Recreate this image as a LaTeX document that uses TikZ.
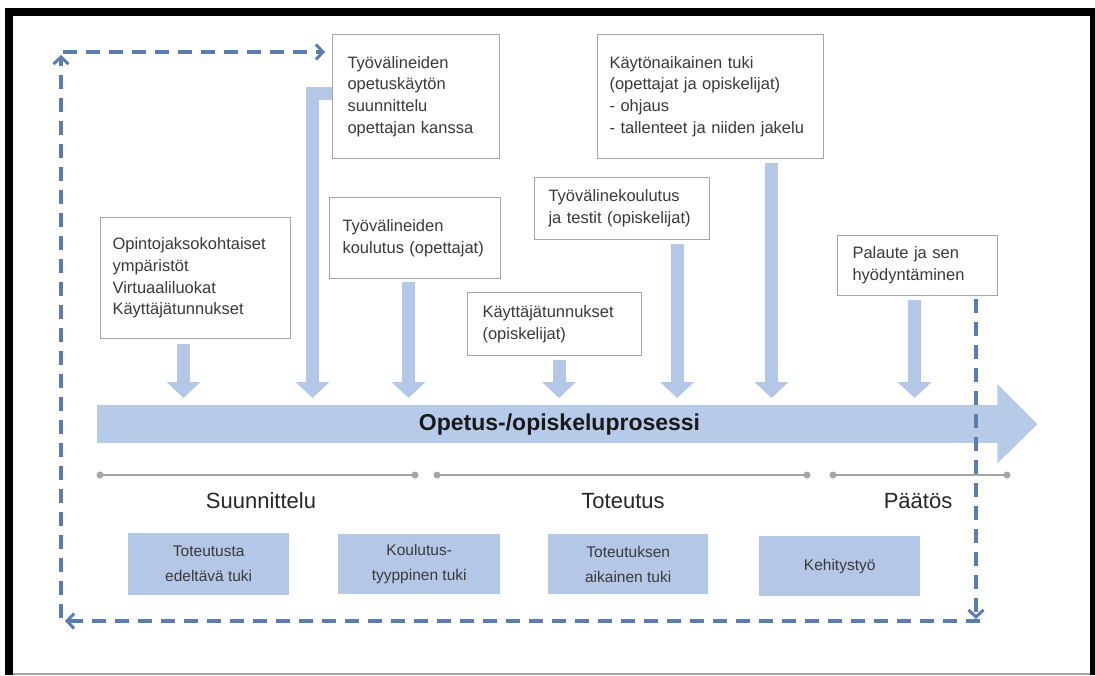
\documentclass[tikz,border=0pt]{standalone}
\usepackage{fontspec}
\setmainfont{Liberation Sans}
\usetikzlibrary{arrows.meta,calc}
\definecolor{lightblue}{HTML}{B4C7E7}
\definecolor{flowblue}{HTML}{B7CAE8}
\definecolor{loopblue}{HTML}{5B7CB0}
\definecolor{boxgrey}{HTML}{A6A6A6}
\definecolor{inkgrey}{HTML}{3A3A3A}
\definecolor{labelgrey}{HTML}{262626}
\definecolor{rulegrey}{HTML}{A6A6A6}

\begin{document}
\begin{tikzpicture}[x=1pt,y=-1pt,
  boxtext/.style={font=\fontsize{16.5}{21.7}\selectfont, text=inkgrey},
  infobox/.style={boxtext, draw=boxgrey, line width=1.1pt, fill=white,
    anchor=north west, align=left, inner ysep=0pt},
  phasebox/.style={font=\fontsize{15.5}{25}\selectfont, text=inkgrey,
    fill=lightblue, anchor=north west, align=center, inner sep=0pt},
  phaselabel/.style={font=\fontsize{22}{26}\selectfont, text=labelgrey,
    anchor=base, inner sep=0pt},
  blk/.style={draw=lightblue, line width=13pt, line join=miter,
    -{Triangle[length=16pt,width=34pt,line width=0pt]}},
  loopline/.style={draw=loopblue, line width=3.2pt, dash pattern=on 14pt off 9pt,
    -{Straight Barb[length=7pt,width=15pt,line width=3pt]}},
  rule/.style={draw=rulegrey, line width=1.3pt},
  ruledot/.style={fill=rulegrey},
]
\useasboundingbox (0,0) rectangle (1095,675);
\fill[white] (0,0) rectangle (1095,675);

% outer frame
\fill[black] (5,8) rectangle (1095,16);
\fill[black] (5,8) rectangle (13,675);
\fill[black] (1090,8) rectangle (1095,675);
\draw[draw=boxgrey, line width=2pt] (13,674) -- (1090,674);

% main process arrow
\node[fill=flowblue, anchor=north west, inner sep=0pt, minimum width=901pt,
  minimum height=38pt] (flow) at (97,405) {};
\fill[flowblue] ($(flow.north east)+(-1,-21)$) -- ($(flow.east)+(39,0)$)
  -- ($(flow.south east)+(-1,20)$) -- cycle;
\node[font=\fontsize{23}{26}\selectfont\bfseries, text=black!90, inner sep=0pt]
  (flowlabel) at (559.5,425) {Opetus-/opiskeluprosessi};

% support boxes above the process
\node[infobox, inner xsep=15pt, text width=137pt, minimum height=124pt] (b1) at (332,34)
  {Työvälineiden\\opetuskäytön\\suunnittelu\\opettajan kanssa};
\node[infobox, inner xsep=12pt, text width=202pt, minimum height=124pt] (b2) at (597,34)
  {Käytönaikainen tuki\\(opettajat ja opiskelijat)\\- ohjaus\\- tallenteet ja niiden jakelu};
\node[infobox, inner xsep=12pt, text width=166pt, minimum height=121pt] (b3) at (100,217)
  {Opintojaksokohtaiset\\ympäristöt\\Virtuaaliluokat\\Käyttäjätunnukset};
\node[infobox, inner xsep=13pt, text width=145pt, minimum height=81pt] (b4) at (329,197)
  {Työvälineiden\\koulutus (opettajat)\\[10pt]};
\node[infobox, inner xsep=14pt, text width=147pt, minimum height=62pt] (b5) at (534,177)
  {Työvälinekoulutus\\ja testit (opiskelijat)};
\node[infobox, inner xsep=15pt, text width=144pt, minimum height=63pt] (b6) at (467,292)
  {Käyttäjätunnukset\\(opiskelijat)};
\node[infobox, inner xsep=15pt, text width=130pt, minimum height=60pt] (b7) at (837,235)
  {Palaute ja sen\\hyödyntäminen};

% block arrows onto the process
\draw[blk] ($(b3.south)+(-12,5)$) -- ($(b3.south |- flow.north)+(-12,-7)$);
\draw[blk] ($(b1.west)+(0,-3.5)$) -| ($(b1.west |- flow.north)+(-19.5,-7)$);
\draw[blk] ($(b4.south)+(-6.5,3)$) -- ($(b4.south |- flow.north)+(-6.5,-7)$);
\draw[blk] ($(b6.south)+(4.5,4)$) -- ($(b6.south |- flow.north)+(4.5,-7)$);
\draw[blk] ($(b5.south)+(55,4)$) -- ($(b5.south |- flow.north)+(55,-7)$);
\draw[blk] ($(b2.south)+(61,4)$) -- ($(b2.south |- flow.north)+(61,-7)$);
\draw[blk] ($(b7.south)+(-3,4)$) -- ($(b7.south |- flow.north)+(-3,-7)$);

% phase timeline
\coordinate (t1a) at (100,475); \coordinate (t1b) at (415,475);
\coordinate (t2a) at (437,475); \coordinate (t2b) at (807,475);
\coordinate (t3a) at (833,475); \coordinate (t3b) at (1007,475);
\draw[rule] (t1a) -- (t1b);
\draw[rule] (t2a) -- (t2b);
\draw[rule] (t3a) -- (t3b);
\foreach \p in {t1a,t1b,t2a,t2b,t3a,t3b} \fill[ruledot] (\p) circle (3.5pt);

\node[phaselabel] (ph1) at (261,508) {Suunnittelu};
\node[phaselabel] (ph2) at (623,508) {Toteutus};
\node[phaselabel] (ph3) at (918,508) {Päätös};

% support types
\node[phasebox, minimum width=161pt, minimum height=62pt] (s1) at (128,533)
  {Toteutusta\\edeltävä tuki};
\node[phasebox, minimum width=162pt, minimum height=60pt] (s2) at (338,534)
  {Koulutus-\\tyyppinen tuki};
\node[phasebox, minimum width=160pt, minimum height=60pt] (s3) at (548,534)
  {Toteutuksen\\aikainen tuki};
\node[phasebox, minimum width=161pt, minimum height=60pt] (s4) at (759,536)
  {Kehitystyö};

% feedback loop
\coordinate (cBR) at (976,621);
\coordinate (cBL) at (61,621);
\coordinate (cTL) at (61,52);
\draw[loopline] ($(b7.south -| cBR)+(0,3)$) -- ($(cBR)+(0,-2)$);
\draw[loopline] ($(cBR)+(4,0)$) -- ($(cBL)+(4,0)$);
\draw[loopline] ($(cBL)+(0,-3)$) -- ($(cTL)+(0,3)$);
\draw[loopline] ($(cTL)+(2,0)$) -- ($(cTL -| b1.west)+(-7,0)$);
\end{tikzpicture}
\end{document}
